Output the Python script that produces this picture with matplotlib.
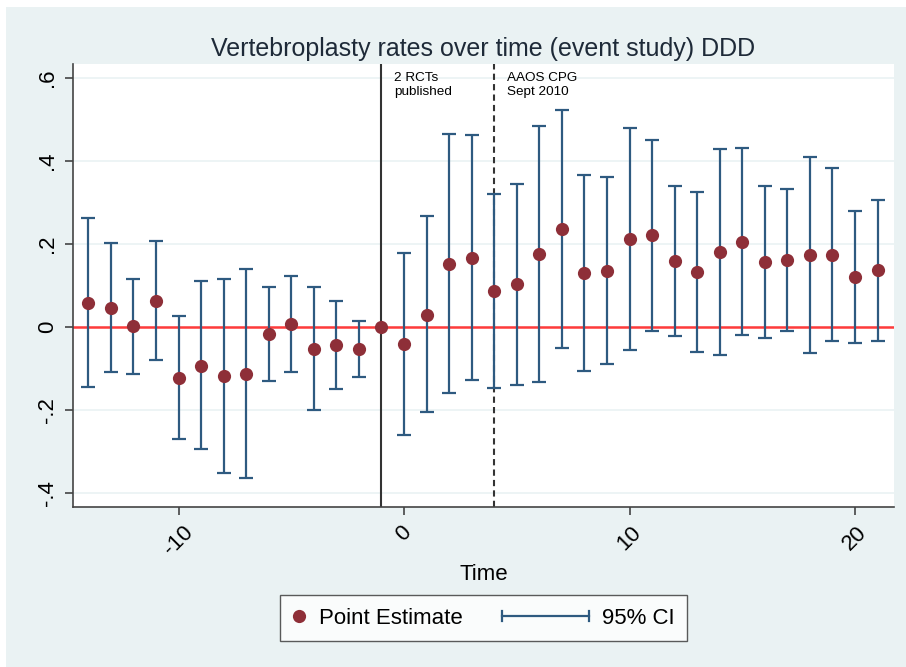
import numpy as np
import matplotlib
matplotlib.use('Agg')
import matplotlib.pyplot as plt
from matplotlib.patches import Rectangle
from matplotlib.lines import Line2D
from matplotlib.legend_handler import HandlerBase

plt.rcParams['font.family'] = ['Liberation Sans', 'DejaVu Sans']

####################################################################################################

time = list(range(-14, 22))
estimate = [0.058, 0.047, 0.002, 0.064, -0.122, -0.093, -0.118, -0.112, -0.017, 0.007,
            -0.052, -0.044, -0.052, 0.0,
            -0.041, 0.030, 0.153, 0.167, 0.087, 0.103, 0.177, 0.236, 0.130, 0.136,
            0.213, 0.221, 0.159, 0.133, 0.180, 0.206, 0.156, 0.162, 0.175, 0.175,
            0.120, 0.138]
ci_upper = [0.262, 0.204, 0.117, 0.207, 0.027, 0.112, 0.117, 0.140, 0.096, 0.124,
            0.096, 0.063, 0.015, np.nan,
            0.179, 0.269, 0.466, 0.462, 0.320, 0.346, 0.485, 0.523, 0.366, 0.363,
            0.481, 0.452, 0.340, 0.325, 0.430, 0.431, 0.340, 0.332, 0.411, 0.384,
            0.279, 0.307]
ci_lower = [-0.143, -0.109, -0.112, -0.078, -0.270, -0.294, -0.352, -0.363, -0.130, -0.109,
            -0.199, -0.149, -0.119, np.nan,
            -0.260, -0.205, -0.159, -0.127, -0.146, -0.139, -0.131, -0.049, -0.105, -0.089,
            -0.054, -0.009, -0.021, -0.060, -0.068, -0.018, -0.027, -0.009, -0.063, -0.034,
            -0.039, -0.032]

yticks = [-0.4, -0.2, 0, 0.2, 0.4, 0.6]
ytick_labels = ['-.4', '-.2', '0', '.2', '.4', '.6']
xticks = [-10, 0, 10, 20]

rct_time = -1
cpg_time = 4

####################################################################################################

bg = '#EAF2F3'
navy = '#2E5A80'
cranberry = '#8E2F38'


class PointHandler(HandlerBase):
    # narrow handle: just the dot
    def legend_artist(self, legend, orig_handle, fontsize, handlebox):
        w = 0.6 * fontsize
        handlebox.width = w
        y = handlebox.height / 2 - handlebox.ydescent
        m = Line2D([w / 2], [y], marker='o', ls='none', color=cranberry, markersize=9.5,
                   markeredgewidth=0, transform=handlebox.get_transform())
        handlebox.add_artist(m)
        return m


class CIHandler(HandlerBase):
    # horizontal bar with caps at both ends
    def legend_artist(self, legend, orig_handle, fontsize, handlebox):
        w = handlebox.width
        y = handlebox.height / 2 - handlebox.ydescent
        c = 3.6
        tr = handlebox.get_transform()
        bar = Line2D([0, w], [y, y], color=navy, lw=1.6, transform=tr)
        cap1 = Line2D([0, 0], [y - c, y + c], color=navy, lw=1.6, transform=tr)
        cap2 = Line2D([w, w], [y - c, y + c], color=navy, lw=1.6, transform=tr)
        for a in (bar, cap1, cap2):
            handlebox.add_artist(a)
        return bar


fig = plt.figure(figsize=(9.06, 6.67), dpi=100)
fig.patches.append(Rectangle((6 / 906, 0), 1, 1 - 7 / 667, transform=fig.transFigure,
                             facecolor=bg, edgecolor='none', zorder=-10))

ax = fig.add_axes([73 / 906, 1 - 507 / 667, 821 / 906, 443 / 667])
ax.set_facecolor('white')

est = np.array(estimate)
lo = np.array(ci_lower)
hi = np.array(ci_upper)
t = np.array(time)
ok = ~np.isnan(lo)

ax.axhline(0, color='#FF3B3B', lw=1.8, zorder=1)
ax.axvline(rct_time, color='#333333', lw=1.5, zorder=1)
ax.axvline(cpg_time, color='#333333', lw=1.5, ls=(0, (3, 2)), zorder=1)

ax.errorbar(t[ok], (lo[ok] + hi[ok]) / 2, yerr=(hi[ok] - lo[ok]) / 2, fmt='none',
            ecolor=navy, elinewidth=1.6, capsize=5, capthick=1.6, zorder=2)
ax.plot(t, est, 'o', color=cranberry, markersize=9.5, markeredgewidth=0, zorder=3)

ax.text(rct_time + 0.55, 0.615, '2 RCTs\npublished', fontsize=9.7, va='top', ha='left',
        linespacing=1.2)
ax.text(cpg_time + 0.55, 0.615, 'AAOS CPG\nSept 2010', fontsize=9.7, va='top', ha='left',
        linespacing=1.2)

ax.set_xlim(-14.68, 21.73)
ax.set_ylim(-0.433, 0.634)
ax.set_yticks(yticks)
ax.set_yticklabels(ytick_labels, rotation=90, va='center', fontsize=16)
ax.set_xticks(xticks)
ax.set_xticklabels([str(x) for x in xticks], rotation=45, fontsize=16)
ax.tick_params(axis='both', length=6, width=1.2, color='#444444', pad=5)
ax.grid(axis='y', color=bg, lw=1.2, zorder=0)
ax.set_axisbelow(True)

for s in ['top', 'right']:
    ax.spines[s].set_visible(False)
for s in ['left', 'bottom']:
    ax.spines[s].set_color('#444444')
    ax.spines[s].set_linewidth(1.2)

ax.set_xlabel('Time', fontsize=16, labelpad=3)
ax.set_title('Vertebroplasty rates over time (event study) DDD', fontsize=18,
             color='#1E2A38', pad=6)

h_point = Line2D([], [])
h_ci = Line2D([], [])
leg = fig.legend([h_point, h_ci], ['Point Estimate', '95% CI'], loc='center', ncol=2,
                 bbox_to_anchor=(483.5 / 906, 1 - 618 / 667), bbox_transform=fig.transFigure,
                 handler_map={h_point: PointHandler(), h_ci: CIHandler()},
                 fontsize=16, frameon=True, fancybox=False, edgecolor='#333333',
                 handlelength=3.9, columnspacing=1.75, borderpad=0.55, handletextpad=0.6)
leg.get_frame().set_linewidth(1.0)
leg.get_frame().set_facecolor('white')

fig.savefig('out.png', dpi=100, facecolor='white')
